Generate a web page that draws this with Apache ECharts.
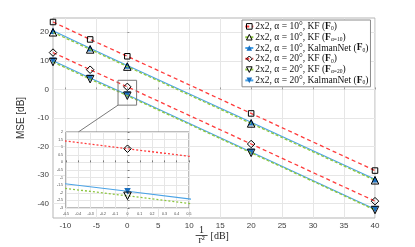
<!DOCTYPE html>
<html><head><meta charset="utf-8">
<script src="https://cdn.jsdelivr.net/npm/echarts@6/dist/echarts.min.js"></script>
<style>html,body{margin:0;padding:0;background:#fff}#c{width:415px;height:247px}</style>
</head><body><div id="c"></div>
<script>
// ---- data ----
const xValues = [-12, -6, 0, 20, 40];
const kf10 = [23.6, 17.5, 11.6, -8.4, -28.4];
const kfMatched10 = [20.0, 14.0, 8.0, -11.9, -31.8];
const knet10 = [20.5, 14.4, 8.4, -11.5, -31.4];
const kf20 = [12.9, 6.9, 0.9, -19.1, -39.1];
const kfMatched20 = [9.6, 3.6, -2.2, -22.2, -42.2];
const knet20 = [10.0, 4.0, -1.9, -21.9, -41.9];
const seriesNames = ['a10kf', 'a10kfm', 'a10knet', 'a20kf', 'a20kfm', 'a20knet'];
const legendLabels = [
  '2x2, α = 10°, KF ({b|F}{s|0})',
  '2x2, α = 10°, KF ({b|F}{s|α=10})',
  '2x2, α = 10°, KalmanNet ({b|F}{s|0})',
  '2x2, α = 20°, KF ({b|F}{s|0})',
  '2x2, α = 20°, KF ({b|F}{s|α=20})',
  '2x2, α = 20°, KalmanNet ({b|F}{s|0})'
];
const xTicks = [-10, -5, 0, 5, 10, 15, 20, 25, 30, 35, 40];
const yTicks = [-40, -30, -20, -10, 0, 10, 20];
const insetXTicks = [-0.5, -0.4, -0.3, -0.2, -0.1, 0, 0.1, 0.2, 0.3, 0.4, 0.5];
const insetYTicks = [-3, -2.5, -2, -1.5, -1, -0.5, 0, 0.5, 1, 1.5, 2];
const zoomBoxX = [-1.5, 1.5];
const zoomBoxY = [-5.5, 3.2];
const yAxisName = 'MSE [dB]';

const allSeries = [kf10, kfMatched10, knet10, kf20, kfMatched20, knet20];
const pairs = arr => xValues.map((x, i) => [x, arr[i]]);

const RED = '#ff3b3b', GREEN = '#8cc63f', BLUE_L = '#4aa3e6', BLUE_M = '#1a6fc0';
const hollow = {color: 'rgba(255,255,255,0)', borderColor: '#000', borderWidth: 1};
const styles = [
  {symbol: 'rect', size: 5.5, rot: 0, line: {color: RED, type: [4, 3], width: 1.3}, item: hollow},
  {symbol: 'triangle', size: 7.5, rot: 0, line: {color: GREEN, type: [3, 2], width: 1.3}, item: hollow},
  {symbol: 'triangle', size: 6.5, rot: 0, line: {color: BLUE_L, type: 'solid', width: 1.1}, item: {color: BLUE_M, borderColor: BLUE_M, borderWidth: 0}},
  {symbol: 'diamond', size: 7.5, rot: 0, line: {color: RED, type: [4, 3], width: 1.3}, item: hollow},
  {symbol: 'triangle', size: 7.5, rot: 180, line: {color: GREEN, type: [3, 2], width: 1.3}, item: hollow},
  {symbol: 'triangle', size: 6.5, rot: 180, line: {color: BLUE_L, type: 'solid', width: 1.1}, item: {color: BLUE_M, borderColor: BLUE_M, borderWidth: 0}}
];
const insetLineTypes = [[2, 2], [2, 2], 'solid', [2, 2], [2, 2], 'solid'];

const series = [];
allSeries.forEach((arr, i) => {
  const s = styles[i];
  series.push({
    name: seriesNames[i], type: 'line', xAxisIndex: 0, yAxisIndex: 0,
    data: pairs(arr), symbol: s.symbol, symbolSize: s.size, symbolRotate: s.rot,
    showAllSymbol: true, lineStyle: s.line, itemStyle: s.item, z: 3 + (i % 3 === 2 ? 0 : 1),
    animation: false, emphasis: {disabled: true}
  });
});
allSeries.forEach((arr, i) => {
  const s = styles[i];
  series.push({
    name: seriesNames[i] + '_inset', type: 'line', xAxisIndex: 1, yAxisIndex: 1,
    data: pairs(arr), symbol: s.symbol, symbolSize: s.size, symbolRotate: s.rot,
    showAllSymbol: true, clip: true,
    lineStyle: Object.assign({}, s.line, {type: insetLineTypes[i]}),
    itemStyle: s.item, z: 20 + (i % 3 === 2 ? 0 : 1), animation: false, emphasis: {disabled: true}
  });
});

const legendData = seriesNames.map((n, i) => ({
  name: n,
  itemStyle: styles[i].item === hollow ? {color: 'none', borderColor: '#000', borderWidth: 1} : {color: BLUE_M, borderWidth: 0}
}));

const tickFont = {fontFamily: 'Liberation Sans', fontSize: 8, color: '#404040'};
const tinyFont = {fontFamily: 'Liberation Sans', fontSize: 3.5, color: '#404040'};
const serif = 'Liberation Serif';

const chart = echarts.init(document.getElementById('c'), null, {renderer: 'canvas'});
chart.setOption({
  animation: false,
  backgroundColor: '#fff',
  grid: [
    {left: 53, top: 18, right: 40, bottom: 29, show: true, borderColor: '#b5b5b5', borderWidth: 1, containLabel: false},
    {left: 66, top: 132, width: 123, height: 76, show: true, backgroundColor: '#fff', borderColor: '#7a7a7a', borderWidth: 1, z: 10}
  ],
  xAxis: [
    {type: 'value', gridIndex: 0, min: -12, max: 40,
     axisLine: {show: false}, axisTick: {show: true, inside: true, length: 2, customValues: xTicks, lineStyle: {color: '#999'}},
     axisLabel: Object.assign({customValues: xTicks, margin: 4}, tickFont),
     splitLine: {show: true, lineStyle: {color: '#e6e6e6', width: 1}}},
    {type: 'value', gridIndex: 1, min: -0.5, max: 0.5, z: 11,
     axisLine: {show: false}, axisTick: {show: true, inside: true, length: 2, customValues: insetXTicks, lineStyle: {color: '#777'}},
     axisLabel: Object.assign({customValues: insetXTicks, margin: 4, formatter: v => String(Math.round(v * 10) / 10)}, tinyFont),
     splitLine: {show: true, lineStyle: {color: '#e6e6e6', width: 1}}}
  ],
  yAxis: [
    {type: 'value', gridIndex: 0, min: -45, max: 25,
     name: yAxisName, nameLocation: 'middle', nameGap: 13, nameRotate: 90,
     nameTextStyle: {fontFamily: 'Liberation Sans', fontSize: 10, color: '#333'},
     axisLine: {show: false}, axisTick: {show: true, inside: true, length: 2, customValues: yTicks, lineStyle: {color: '#999'}},
     axisLabel: Object.assign({customValues: yTicks, margin: 4}, tickFont),
     splitLine: {show: true, lineStyle: {color: '#e6e6e6', width: 1}}},
    {type: 'value', gridIndex: 1, min: -3, max: 2, z: 11,
     axisLine: {show: false}, axisTick: {show: true, inside: true, length: 2, customValues: insetYTicks, lineStyle: {color: '#777'}},
     axisLabel: Object.assign({customValues: insetYTicks, margin: 3}, tinyFont),
     splitLine: {show: true, lineStyle: {color: '#e6e6e6', width: 1}}}
  ],
  legend: {
    data: legendData, orient: 'vertical', left: 242, top: 20, padding: [1, 2, 1, 2],
    itemWidth: 8, itemHeight: 7, itemGap: 0,
    backgroundColor: '#fff', borderColor: '#8c8c8c', borderWidth: 1, borderRadius: 0,
    selectedMode: false,
    formatter: name => legendLabels[seriesNames.indexOf(name)],
    textStyle: {fontFamily: serif, fontSize: 9.5, color: '#111', lineHeight: 10.8, padding: [0, 0, 0, -3],
      rich: {
        b: {fontFamily: serif, fontSize: 9.5, fontWeight: 'bold', color: '#111', lineHeight: 10.8},
        s: {fontFamily: serif, fontSize: 5.5, color: '#111', lineHeight: 10.8, verticalAlign: 'bottom', padding: [3, 0, 0, 0]}
      }}
  },
  series: series
});

// annotation: zoom box, connector, x-axis label
const p1 = chart.convertToPixel({xAxisIndex: 0, yAxisIndex: 0}, [zoomBoxX[0], zoomBoxY[1]]);
const p2 = chart.convertToPixel({xAxisIndex: 0, yAxisIndex: 0}, [zoomBoxX[1], zoomBoxY[0]]);
const pBL = chart.convertToPixel({xAxisIndex: 0, yAxisIndex: 0}, [zoomBoxX[0], zoomBoxY[0]]);
const pIn = chart.convertToPixel({xAxisIndex: 1, yAxisIndex: 1}, [-0.4, 2]);
const cx = chart.convertToPixel({xAxisIndex: 0, yAxisIndex: 0}, [12, -45]);
chart.setOption({
  graphic: [
    {type: 'rect', shape: {x: p1[0], y: p1[1], width: p2[0] - p1[0], height: p2[1] - p1[1]},
     style: {fill: 'none', stroke: '#7a7a7a', lineWidth: 1}, z: 30},
    {type: 'line', shape: {x1: pBL[0], y1: pBL[1], x2: pIn[0], y2: pIn[1]},
     style: {stroke: '#7a7a7a', lineWidth: 1}, z: 30},
    {type: 'text', x: cx[0], y: cx[1] + 12.5, style: {text: '1', font: '10px "Liberation Serif"', fill: '#222', align: 'center', verticalAlign: 'middle'}, z: 30},
    {type: 'line', shape: {x1: cx[0] - 6, y1: cx[1] + 17.5, x2: cx[0] + 6, y2: cx[1] + 17.5}, style: {stroke: '#222', lineWidth: 0.8}, z: 30},
    {type: 'text', x: cx[0], y: cx[1] + 22.5, style: {text: 'r²', font: '10px "Liberation Serif"', fill: '#222', align: 'center', verticalAlign: 'middle'}, z: 30},
    {type: 'text', x: cx[0] + 9, y: cx[1] + 18, style: {text: '[dB]', font: '10px "Liberation Serif"', fill: '#222', align: 'left', verticalAlign: 'middle'}, z: 30}
  ]
});
</script></body></html>
